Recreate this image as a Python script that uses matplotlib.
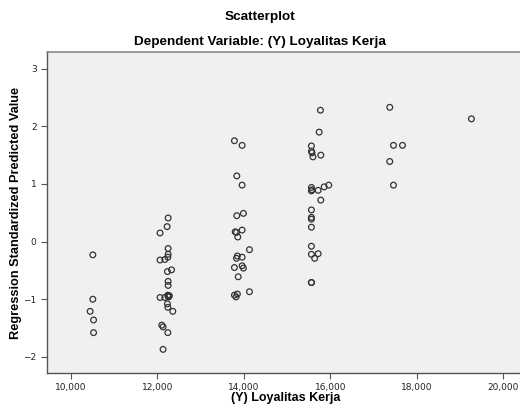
import matplotlib
matplotlib.use("Agg")
import matplotlib.pyplot as plt
import matplotlib.ticker as mticker
from matplotlib import font_manager

# (Y) Loyalitas Kerja vs regression standardized predicted value
loyalitas = [
    10503, 10503, 10441, 10520, 10520,
    12247, 12224, 12060, 12247, 12247, 12240, 12170, 12060, 12325, 12230,
    12247, 12247, 12240, 12247, 12260, 12060, 12170, 12275, 12230, 12240,
    12355, 12100, 12130, 12240, 12130,
    13782, 13960, 13837, 13960, 13991, 13837, 13800, 13830, 13960, 13860,
    14130, 13850, 13830, 13960, 13782, 13960, 13990, 13870, 14130, 13782,
    13850, 13820,
    15774, 15744, 15565, 15565, 15580, 15600, 15782, 15565, 15565, 15580,
    15721, 15860, 15967, 15782, 15565, 15565, 15565, 15565, 15565, 15565,
    15721, 15640, 15565, 15565,
    17379, 17465, 17674, 17379, 17465,
    19270,
]
predicted = [
    -0.23, -1.00, -1.21, -1.36, -1.58,
    0.41, 0.26, 0.15, -0.12, -0.22, -0.27, -0.31, -0.32, -0.49, -0.52,
    -0.69, -0.76, -0.93, -0.95, -0.96, -0.97, -0.97, -0.94, -1.08, -1.14,
    -1.21, -1.45, -1.48, -1.58, -1.87,
    1.75, 1.67, 1.14, 0.98, 0.49, 0.45, 0.17, 0.16, 0.20, 0.08,
    -0.14, -0.25, -0.29, -0.27, -0.45, -0.42, -0.46, -0.61, -0.87, -0.93,
    -0.91, -0.96,
    2.28, 1.90, 1.66, 1.57, 1.54, 1.47, 1.50, 0.94, 0.88, 0.90,
    0.89, 0.95, 0.98, 0.72, 0.55, 0.42, 0.39, 0.25, -0.08, -0.22,
    -0.21, -0.29, -0.71, -0.71,
    2.33, 1.67, 1.67, 1.39, 0.98,
    2.13,
]

# pick the regular-width Liberation Sans Bold file (not Narrow)
bold_file = None
for f in font_manager.fontManager.ttflist:
    if f.name == "Liberation Sans" and f.weight in (700, "bold") and f.style == "normal" \
            and "Narrow" not in f.fname:
        bold_file = f.fname
        break


def fp(size):
    if bold_file:
        return font_manager.FontProperties(fname=bold_file, size=size)
    return font_manager.FontProperties(family="Liberation Sans", weight="bold", size=size)


fig = plt.figure(figsize=(5.2, 4.12), dpi=100)
ax = fig.add_axes([47 / 520, 1 - 373 / 412, 1 - 47 / 520, 321 / 412])
ax.set_facecolor("#f0f0f0")

ax.scatter(loyalitas, predicted, s=17, facecolors="none",
           edgecolors="#333333", linewidths=0.9)

ax.set_xlim(9442, 20395)
ax.set_ylim(-2.28, 3.29)
ax.set_xticks([10000, 12000, 14000, 16000, 18000, 20000])
ax.set_yticks([-2, -1, 0, 1, 2, 3])
ax.xaxis.set_major_formatter(mticker.FuncFormatter(lambda v, p: f"{int(v):,}"))
ax.tick_params(labelsize=6.5, length=4, width=0.8, color="#555555", labelcolor="#222222")

for s in ["left", "bottom"]:
    ax.spines[s].set_color("#555555")
    ax.spines[s].set_linewidth(1.0)
ax.spines["top"].set_color("#888888")
ax.spines["top"].set_linewidth(1.2)
ax.spines["right"].set_visible(False)

ax.set_xlabel("(Y) Loyalitas Kerja", fontproperties=fp(9.0))
ax.set_ylabel("Regression Standardized Predicted Value", fontproperties=fp(9.2))
ax.xaxis.set_label_coords(0.505, -0.058)
ax.yaxis.set_label_coords(-0.053, 0.5)

fig.text(0.5, 1 - 17 / 412, "Scatterplot", ha="center", va="center", fontproperties=fp(9.7))
fig.text(0.5, 1 - 42 / 412, "Dependent Variable: (Y) Loyalitas Kerja", ha="center",
         va="center", fontproperties=fp(9.7))

fig.savefig("out.png", dpi=100)
